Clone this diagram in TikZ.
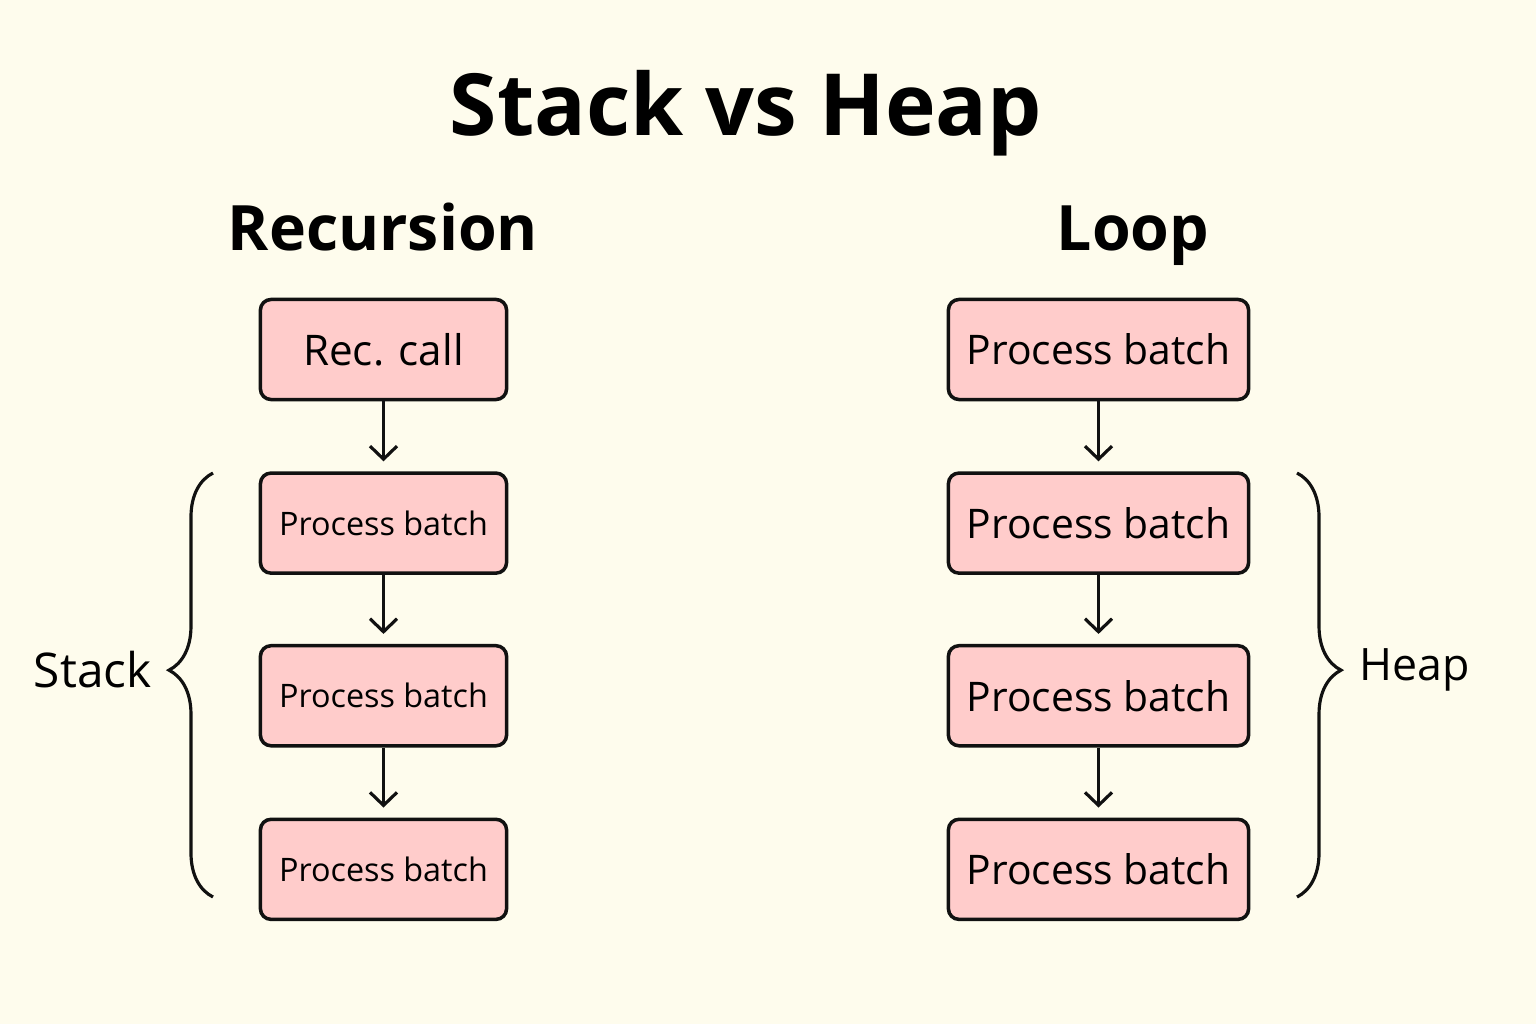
\documentclass[tikz,border=0pt]{standalone}
\usepackage{fontspec}
\setmainfont{Open Sans}
\usetikzlibrary{positioning,arrows.meta,decorations.pathreplacing}
\definecolor{cream}{RGB}{254,252,237}
\definecolor{boxpink}{RGB}{255,204,203}
\definecolor{inkblack}{RGB}{17,17,17}

\tikzset{
  batch/.style={rectangle, draw=inkblack, line width=1pt, rounded corners=3pt,
                fill=boxpink, minimum width=2.46cm, minimum height=1.0cm, inner sep=0pt},
  widebatch/.style={batch, minimum width=3.0cm},
  flow/.style={draw=inkblack, line width=0.9pt, shorten >=1.0mm,
               -{Straight Barb[length=1.3mm,width=2.7mm]}},
  curly/.style={draw=inkblack, line width=0.9pt,
                decorate, decoration={brace, amplitude=0.44cm}}
}

\begin{document}
\begin{tikzpicture}[x=0.01cm, y=-0.01cm]
  \fill[cream] (0,0) rectangle (1536,1024);

  % headings
  \node[anchor=base, font=\bfseries\fontsize{24.4}{30}\selectfont] (title) at (746,135) {Stack vs Heap};
  \node[anchor=base, font=\bfseries\fontsize{17.8}{22}\selectfont] (rechead) at (383,250) {Recursion};
  \node[anchor=base, font=\bfseries\fontsize{17.8}{22}\selectfont] (loophead) at (1133,250) {Loop};

  % recursion column
  \node[batch, font=\fontsize{12}{15}\selectfont] (rec) at (383.5,349.5) {Rec. call};
  \node[batch, font=\fontsize{9.2}{12}\selectfont, below=0.70cm of rec] (ra) {Process batch};
  \node[batch, font=\fontsize{9.2}{12}\selectfont, below=0.69cm of ra] (rb) {Process batch};
  \node[batch, font=\fontsize{9.2}{12}\selectfont, below=0.70cm of rb] (rc) {Process batch};
  \draw[flow] (rec) -- (ra);
  \draw[flow] (ra) -- (rb);
  \draw[flow] (rb) -- (rc);

  % loop column
  \node[widebatch, font=\fontsize{11.6}{15}\selectfont] (la) at (1098.5,349.5) {Process batch};
  \node[widebatch, font=\fontsize{11.6}{15}\selectfont, below=0.70cm of la] (lb) {Process batch};
  \node[widebatch, font=\fontsize{11.6}{15}\selectfont, below=0.69cm of lb] (lc) {Process batch};
  \node[widebatch, font=\fontsize{11.6}{15}\selectfont, below=0.70cm of lc] (ld) {Process batch};
  \draw[flow] (la) -- (lb);
  \draw[flow] (lb) -- (lc);
  \draw[flow] (lc) -- (ld);

  % braces
  \coordinate (stackbot) at (213,897);
  \coordinate (stacktop) at (213,473);
  \coordinate (stacktip) at (170,670);
  \draw[curly, decoration={aspect=0.535}] (stackbot) -- (stacktop);
  \node[font=\fontsize{13.6}{16}\selectfont, left=0.06cm of stacktip] (stack) {Stack};

  \coordinate (heaptop) at (1297,473);
  \coordinate (heapbot) at (1297,897);
  \coordinate (heaptip) at (1340,670);
  \draw[curly, decoration={aspect=0.465}] (heaptop) -- (heapbot);
  \node[font=\fontsize{12.7}{16}\selectfont, right=0.07cm of heaptip] (heap) {Heap};
\end{tikzpicture}
\end{document}
